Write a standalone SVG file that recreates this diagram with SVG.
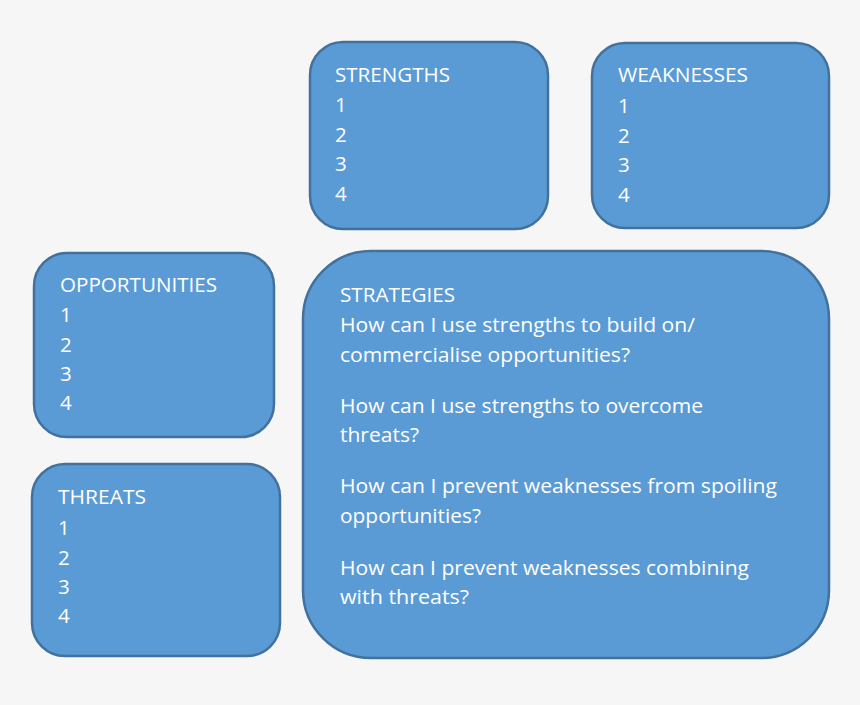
<svg xmlns="http://www.w3.org/2000/svg" width="860" height="705" viewBox="0 0 860 705">
<style>
.box{fill:#5b9bd5;stroke:#41719c;stroke-width:2.5}
.t{font-family:"Open Sans","Noto Sans","Liberation Sans",sans-serif;font-size:20.5px;fill:#ffffff}
</style>
<rect x="0" y="0" width="860" height="705" fill="#f6f6f6"/>
<g id="strengths">
<rect class="box" x="310" y="42" width="238" height="187" rx="33"/>
<text class="t" x="335" y="82" textLength="115" lengthAdjust="spacingAndGlyphs">STRENGTHS</text>
<text class="t" x="335" y="112">1</text>
<text class="t" x="335" y="142">2</text>
<text class="t" x="335" y="171">3</text>
<text class="t" x="335" y="201">4</text>
</g>
<g id="weaknesses">
<rect class="box" x="592" y="43" width="237" height="185" rx="33"/>
<text class="t" x="618" y="82" textLength="130" lengthAdjust="spacingAndGlyphs">WEAKNESSES</text>
<text class="t" x="618" y="113">1</text>
<text class="t" x="618" y="143">2</text>
<text class="t" x="618" y="172">3</text>
<text class="t" x="618" y="202">4</text>
</g>
<g id="opportunities">
<rect class="box" x="34" y="253" width="240" height="184" rx="33"/>
<text class="t" x="60" y="292" textLength="157" lengthAdjust="spacingAndGlyphs">OPPORTUNITIES</text>
<text class="t" x="60" y="322">1</text>
<text class="t" x="60" y="352">2</text>
<text class="t" x="60" y="381">3</text>
<text class="t" x="60" y="410">4</text>
</g>
<g id="threats">
<rect class="box" x="32" y="464" width="248" height="192" rx="33"/>
<text class="t" x="58" y="504" textLength="88" lengthAdjust="spacingAndGlyphs">THREATS</text>
<text class="t" x="58" y="535">1</text>
<text class="t" x="58" y="565">2</text>
<text class="t" x="58" y="594">3</text>
<text class="t" x="58" y="623">4</text>
</g>
<g id="strategies">
<rect class="box" x="303" y="251" width="526" height="407" rx="68"/>
<text class="t" x="340" y="302" textLength="115" lengthAdjust="spacingAndGlyphs">STRATEGIES</text>
<text class="t" x="340" y="332" textLength="355" lengthAdjust="spacingAndGlyphs">How can I use strengths to build on/</text>
<text class="t" x="340" y="362" textLength="290" lengthAdjust="spacingAndGlyphs">commercialise opportunities?</text>
<text class="t" x="340" y="413" textLength="363" lengthAdjust="spacingAndGlyphs">How can I use strengths to overcome</text>
<text class="t" x="340" y="442" textLength="79" lengthAdjust="spacingAndGlyphs">threats?</text>
<text class="t" x="340" y="493" textLength="437" lengthAdjust="spacingAndGlyphs">How can I prevent weaknesses from spoiling</text>
<text class="t" x="340" y="523" textLength="141" lengthAdjust="spacingAndGlyphs">opportunities?</text>
<text class="t" x="340" y="575" textLength="409" lengthAdjust="spacingAndGlyphs">How can I prevent weaknesses combining</text>
<text class="t" x="340" y="604" textLength="129" lengthAdjust="spacingAndGlyphs">with threats?</text>
</g>
<g id="connectors"></g>
</svg>
